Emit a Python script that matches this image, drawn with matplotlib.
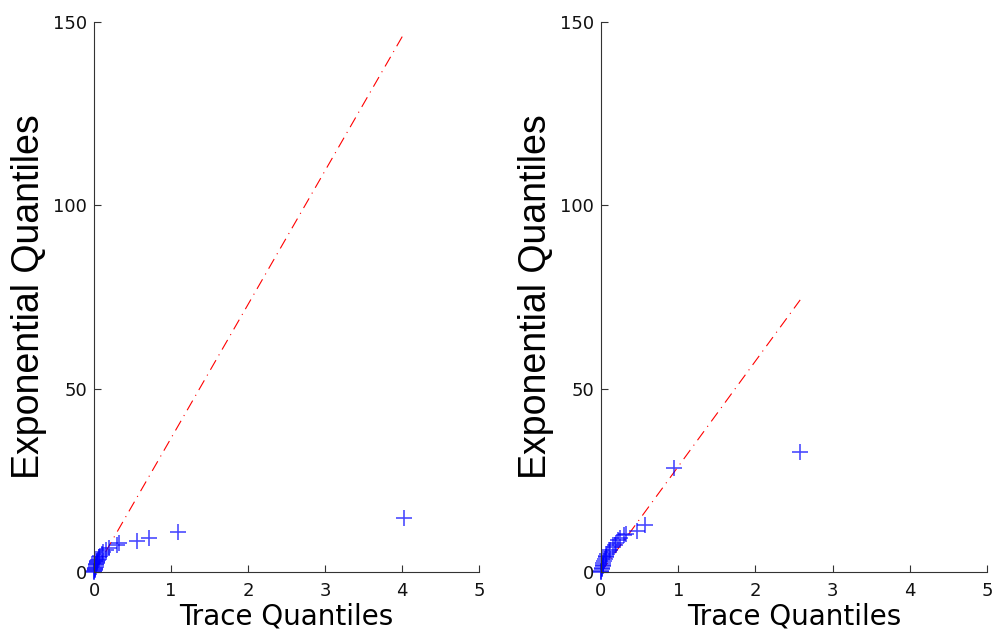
import matplotlib
matplotlib.use("Agg")
import matplotlib.pyplot as plt

# Left panel: trace quantiles (x) vs exponential quantiles (y)
left_trace = [0.0, 0.005, 0.01, 0.012, 0.015, 0.02, 0.025, 0.03, 0.035, 0.04, 0.045, 0.05,
              0.06, 0.07, 0.08, 0.1, 0.12, 0.15, 0.2, 0.3, 0.33, 0.56, 0.71, 1.09, 4.03]
left_exp = [0.1, 0.3, 0.6, 0.9, 1.2, 1.5, 1.8, 2.1, 2.4, 2.7, 3.0, 3.3,
            3.6, 4.0, 4.4, 4.9, 5.4, 5.9, 6.5, 7.5, 7.9, 8.5, 9.3, 10.9, 14.7]
left_fit_x = [0.0, 4.03]
left_fit_y = [0.0, 147.0]

# Right panel
right_trace = [0.0, 0.005, 0.01, 0.015, 0.02, 0.025, 0.03, 0.04, 0.05, 0.06, 0.07, 0.08,
               0.1, 0.12, 0.15, 0.18, 0.2, 0.22, 0.25, 0.3, 0.33, 0.47, 0.57, 0.95, 2.58]
right_exp = [0.1, 0.4, 0.8, 1.2, 1.6, 2.0, 2.5, 3.0, 3.5, 4.0, 4.5, 5.0,
             5.5, 6.0, 6.7, 7.3, 8.0, 8.6, 9.3, 10.0, 10.5, 11.2, 12.8, 28.4, 32.7]
right_fit_x = [0.0, 2.58]
right_fit_y = [0.0, 74.2]

x_ticks = [0, 1, 2, 3, 4, 5]
y_ticks = [0, 50, 100, 150]

fig = plt.figure(figsize=(9.92, 6.29), dpi=100)
W, H = 992, 629
ax1 = fig.add_axes([94 / W, 1 - 572 / H, (479 - 94) / W, (572 - 22) / H])
ax2 = fig.add_axes([601 / W, 1 - 572 / H, (987 - 601) / W, (572 - 22) / H])

panels = [(ax1, left_trace, left_exp, left_fit_x, left_fit_y),
          (ax2, right_trace, right_exp, right_fit_x, right_fit_y)]

for ax, tx, ey, fx, fy in panels:
    ax.plot(fx, fy, color="red", linewidth=0.8, linestyle=(0, (10, 5, 1, 5)))
    ax.plot(tx, ey, linestyle="none", marker="+", markersize=11, markeredgewidth=1.2,
            color="blue", alpha=0.7, clip_on=False)
    ax.set_xlim(0, 5)
    ax.set_ylim(0, 150)
    ax.set_xticks(x_ticks)
    ax.set_yticks(y_ticks)
    ax.spines["top"].set_visible(False)
    ax.spines["right"].set_visible(False)
    for s in ("left", "bottom"):
        ax.spines[s].set_color("#333333")
    ax.tick_params(direction="in", length=5, labelsize=13, colors="#333333",
                   labelcolor="#111111")
    ax.tick_params(axis="x", pad=7)
    ax.tick_params(axis="y", pad=5)
    ax.set_xlabel("Trace Quantiles", fontsize=20, labelpad=2)
    ax.set_ylabel("Exponential Quantiles", fontsize=27, family="Liberation Sans",
                  labelpad=4)

fig.savefig("out.png", dpi=100)
